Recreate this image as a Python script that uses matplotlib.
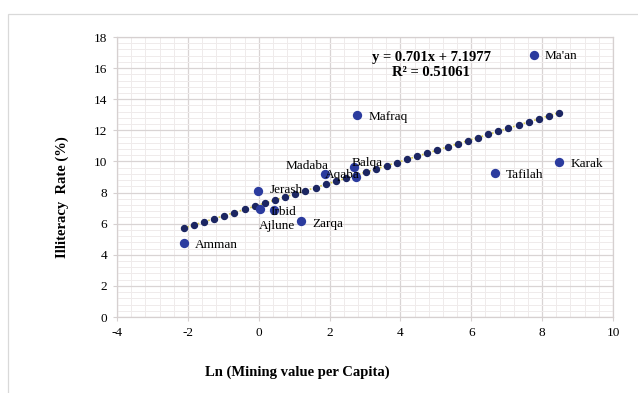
import numpy as np
import matplotlib.pyplot as plt
from matplotlib.patches import Rectangle
from matplotlib.ticker import MultipleLocator

# Governorates: Ln(mining value per capita) vs illiteracy rate
names = ["Amman", "Jerash", "Ajlune", "Irbid", "Zarqa", "Madaba",
         "Balqa", "Aqaba", "Mafraq", "Ma'an", "Tafilah", "Karak"]
ln_mining = [-2.12, -0.01, 0.04, 0.42, 1.20, 1.86,
             2.70, 2.76, 2.78, 7.76, 6.66, 8.48]
illiteracy = [4.78, 8.07, 6.95, 6.87, 6.17, 9.18,
              9.66, 9.03, 13.01, 16.86, 9.23, 9.94]

# linear trendline as printed on the chart
slope = 0.701
intercept = 7.1977
r_squared = 0.51061

# label offsets in points (dx, dy, ha)
label_pos = {
    "Amman": (8, -2, "left"), "Jerash": (8, 1, "left"),
    "Ajlune": (-1, -12, "left"), "Irbid": (-2, -1, "left"),
    "Zarqa": (8, -2, "left"), "Madaba": (3, 6, "right"),
    "Balqa": (-2, 3, "left"), "Aqaba": (2, 1, "right"),
    "Mafraq": (8, -2, "left"), "Ma'an": (8, -1, "left"),
    "Tafilah": (8, -1, "left"), "Karak": (8, -1, "left"),
}

plt.rcParams['font.family'] = ['Liberation Serif', 'DejaVu Serif']
plt.rcParams['axes.unicode_minus'] = False

fig = plt.figure(figsize=(6.38, 3.93), dpi=100)
fig.patches.append(Rectangle((8 / 638, -0.1), 1.2, 1 - 14 / 393 + 0.1,
                             transform=fig.transFigure, fill=False,
                             edgecolor='#d9d9d9', linewidth=0.9))
ax = fig.add_axes([117 / 638, 1 - 317 / 393, 496 / 638, 280 / 393])

ax.set_xlim(-4, 10)
ax.set_ylim(0, 18)
ax.xaxis.set_major_locator(MultipleLocator(2))
ax.yaxis.set_major_locator(MultipleLocator(2))
ax.xaxis.set_minor_locator(MultipleLocator(0.4))
ax.yaxis.set_minor_locator(MultipleLocator(0.4))
ax.grid(which='major', color='#d9d4d4', linewidth=0.9)
ax.grid(which='minor', color='#efebeb', linewidth=0.7)
ax.set_axisbelow(True)
for s in ax.spines.values():
    s.set_color('#d6d0d0')
    s.set_linewidth(0.9)
ax.tick_params(which='major', length=3, color='#d6d0d0', labelsize=9.5,
               pad=4)
ax.tick_params(which='minor', length=0)

# trendline: yellow dotted with dark navy dots
xt = np.linspace(min(ln_mining), max(ln_mining), 38)
yt = slope * xt + intercept
ax.plot(xt, yt, color='#d8cc4a', linewidth=1.2, linestyle=(0, (1, 1.2)),
        zorder=2)
ax.plot(xt, yt, linestyle='none', marker='o', markersize=4.3,
        color='#1c2662', zorder=3)

ax.scatter(ln_mining, illiteracy, s=45, color='#2b3b9e', zorder=4,
           linewidths=0)

for n, x, y in zip(names, ln_mining, illiteracy):
    dx, dy, ha = label_pos[n]
    ax.annotate(n, (x, y), xytext=(dx, dy), textcoords='offset points',
                ha=ha, va='center', fontsize=9.5, zorder=5)

fig.text(431 / 638, 1 - 57 / 393, f"y = {slope}x + {intercept}",
         ha='center', va='center', fontsize=10.5, fontweight='bold')
fig.text(431 / 638, 1 - 72 / 393, f"R² = {r_squared}",
         ha='center', va='center', fontsize=10.5, fontweight='bold')

fig.text(297 / 638, 1 - 372 / 393, "Ln (Mining value per Capita)",
         ha='center', va='center', fontsize=10.5, fontweight='bold')
fig.text(62 / 638, 1 - 197 / 393, "Illiteracy  Rate (%)", rotation=90,
         ha='center', va='center', fontsize=10.5, fontweight='bold')

fig.savefig("out.png", dpi=100)
